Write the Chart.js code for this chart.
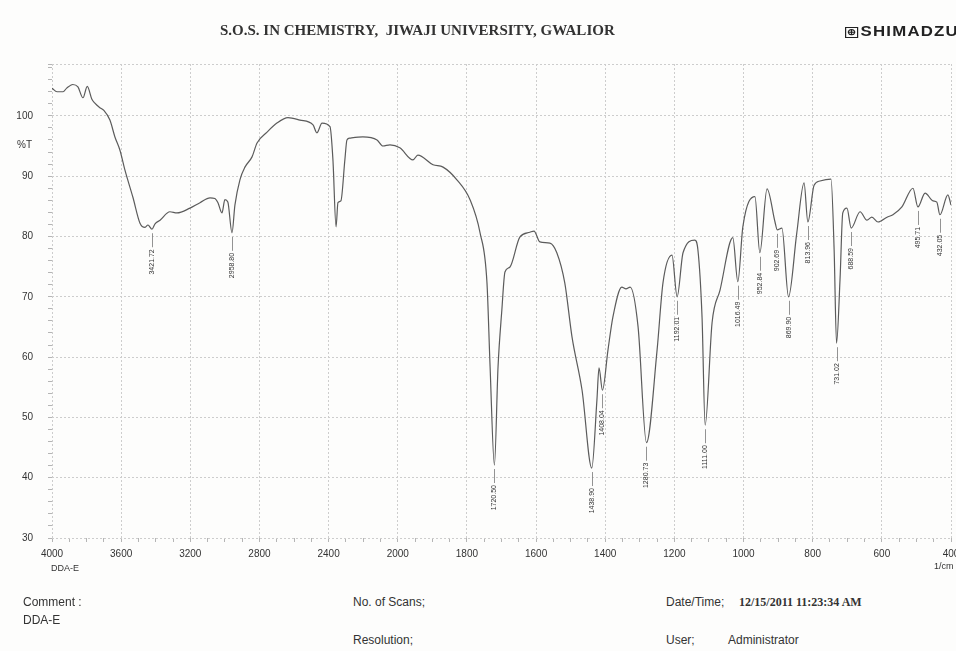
<!DOCTYPE html>
<html>
<head>
<meta charset="utf-8">
<title>FTIR DDA-E</title>
<script src="https://cdn.jsdelivr.net/npm/chart.js@4.4.1/dist/chart.umd.min.js"></script>
<style>
  body { margin: 0; width: 956px; height: 651px; overflow: hidden; position: relative; background: #fdfdfc; font-family: 'Liberation Sans', Arial, sans-serif; color: #333; }
  #chartBox { position: absolute; left: 0; top: 0; width: 956px; height: 580px; }
  .txt { position: absolute; white-space: nowrap; line-height: 14px; font-size: 12px; }
  .serif { font-family: 'Liberation Serif', 'Times New Roman', serif; font-weight: bold; }
  #title { left: 220px; top: 22px; font-size: 15px; line-height: 17px; }
  #logo { left: 845px; top: 24px; font-weight: bold; font-size: 14px; letter-spacing: 1px; transform: scaleX(1.2); transform-origin: left center; color: #222; }
  #logo span { display: inline-block; width: 9px; height: 9px; border: 1px solid #222; font-size: 9px; line-height: 9px; text-align: center; margin-right: 2px; letter-spacing: 0; vertical-align: 1px; }
</style>
</head>
<body>
<div id="chartBox"><canvas id="irChart"></canvas></div>

<div class="txt serif" id="title">S.O.S. IN CHEMISTRY,&nbsp; JIWAJI UNIVERSITY, GWALIOR</div>
<div class="txt" id="logo"><span>⊕</span>SHIMADZU</div>
<div class="txt" style="left:17px; top:138px; font-size:10px;">%T</div>
<div class="txt" style="left:51px; top:561px; font-size:9px;">DDA-E</div>
<div class="txt" style="left:934px; top:559px; font-size:9px;">1/cm</div>

<div class="txt" style="left:23px; top:595px;">Comment :</div>
<div class="txt" style="left:23px; top:613px;">DDA-E</div>
<div class="txt" style="left:353px; top:595px;">No. of Scans;</div>
<div class="txt" style="left:353px; top:633px;">Resolution;</div>
<div class="txt" style="left:666px; top:595px;">Date/Time;</div>
<div class="txt serif" style="left:739px; top:595px; font-size:12px;">12/15/2011 11:23:34 AM</div>
<div class="txt" style="left:666px; top:633px;">User;</div>
<div class="txt" style="left:728px; top:633px;">Administrator</div>

<script>
'use strict';

// spectrum (wavenumber in 1/cm , %T)
var wavenumbers = [
  4000, 3971, 3936, 3915, 3880, 3850, 3821, 3796, 3770, 3752, 3725, 3700, 3665, 3636,
  3607, 3578, 3532, 3491, 3462, 3445, 3421.72, 3404, 3375, 3318, 3277, 3202, 3144,
  3086, 3058, 3040, 3017, 3000, 2983, 2958.80, 2942, 2913, 2884, 2843, 2814, 2756,
  2699, 2635, 2566, 2490, 2468, 2438, 2392, 2375, 2357, 2346, 2329, 2306, 2294, 2277,
  2202, 2120, 2086, 2045, 1994, 1956, 1942, 1898, 1869, 1829, 1791, 1762, 1742, 1733,
  1720.50, 1710, 1699, 1690, 1676, 1647, 1618, 1606, 1589, 1560, 1540, 1517, 1496,
  1467, 1438.90, 1424, 1418, 1408.04, 1392, 1378, 1352, 1340, 1328, 1305, 1280.73,
  1250, 1233, 1207, 1192.01, 1175, 1141, 1132, 1120, 1111.00, 1091, 1068, 1031,
  1016.49, 1002, 967, 952.84, 932, 909, 902.69, 889, 869.90, 846, 825, 813.96, 796,
  779, 747, 738, 731.02, 721, 713, 701, 688.59, 663, 643, 629, 611, 585, 568, 542,
  510, 495.71, 475, 452, 441, 432.05, 409, 400
];
var transmittance = [
  104.6, 104.0, 104.0, 104.6, 105.2, 104.8, 103.0, 104.9, 102.8, 102.1, 101.4, 100.9, 99.3, 96.5,
  94.3, 91.0, 86.5, 82.2, 81.5, 81.9, 81.2, 82.1, 82.7, 84.1, 83.9, 84.7, 85.6,
  86.4, 86.3, 85.6, 83.9, 86.1, 85.7, 80.6, 85.2, 89.4, 91.5, 93.2, 95.5, 97.3,
  98.8, 99.7, 99.3, 98.5, 97.2, 98.8, 98.2, 92.7, 81.6, 85.6, 85.9, 92.7, 96.0, 96.3,
  96.5, 96.0, 95.0, 95.2, 94.7, 92.7, 93.5, 91.9, 91.5, 89.4, 86.1, 80.6, 72.3, 58.4,
  42.1, 58.4, 67.8, 74.1, 74.9, 79.9, 80.7, 80.9, 79.1, 78.9, 77.3, 72.3, 63.3,
  54.5, 41.6, 52.9, 58.2, 54.5, 61.2, 66.6, 71.6, 71.3, 71.6, 65.0, 45.8,
  61.2, 72.3, 76.9, 70.0, 77.3, 79.4, 77.8, 66.6, 48.7, 65.7, 71.1, 79.8,
  72.5, 81.6, 86.6, 77.3, 87.9, 82.4, 81.1, 81.4, 70.0, 80.6, 88.9, 82.4, 88.5,
  89.2, 89.5, 77.8, 62.3, 72.8, 83.9, 84.7, 81.4, 84.1, 82.7, 83.2, 82.4, 83.2, 83.6, 84.9,
  88.0, 84.9, 87.2, 85.9, 85.7, 83.6, 86.9, 85.2
];

// labelled peaks
var peakWavenumbers = [3421.72, 2958.80, 1720.50, 1438.90, 1408.04, 1280.73, 1192.01, 1111.00,
  1016.49, 952.84, 902.69, 869.90, 813.96, 731.02, 688.59, 495.71, 432.05];
var peakTransmittance = [81.2, 80.6, 42.1, 41.6, 54.5, 45.8, 70.0, 48.7,
  72.5, 77.3, 81.1, 70.0, 82.4, 62.3, 81.4, 84.9, 83.6];

var xTickLabels = [4000, 3600, 3200, 2800, 2400, 2000, 1800, 1600, 1400, 1200, 1000, 800, 600, 400];
var yTickLabels = [30, 40, 50, 60, 70, 80, 90, 100];
var yTop = 108.6;

// the Shimadzu axis is squeezed by 2 above 2000 1/cm
function toAxis(nu) {
  return nu >= 2000 ? (4000 - nu) / 2 : 1000 + (2000 - nu);
}
function fromAxis(u) {
  return u <= 1000 ? 4000 - 2 * u : 3000 - u;
}

var points = [];
for (var i = 0; i < wavenumbers.length; i++) {
  points.push({ x: toAxis(wavenumbers[i]), y: transmittance[i] });
}

var xMajor = xTickLabels.map(toAxis);
var xTicks = [];
for (var u = 0; u <= 2600; u += 50) xTicks.push(u);
var yTicks = [];
for (var t = 30; t <= 108; t += 2) yTicks.push(t);
yTicks.push(yTop);

function isMajorX(v) { return xMajor.indexOf(v) !== -1; }
function isMajorY(v) { return yTickLabels.indexOf(v) !== -1 || v === yTop; }

// peak numbers hanging under each minimum
var peakLabels = {
  id: 'peakLabels',
  afterDatasetsDraw: function (chart) {
    var ctx = chart.ctx;
    var xs = chart.scales.x;
    var ys = chart.scales.y;
    ctx.save();
    ctx.strokeStyle = '#777';
    ctx.lineWidth = 0.8;
    ctx.fillStyle = '#333';
    ctx.font = '7px "Liberation Sans", Arial, sans-serif';
    for (var i = 0; i < peakWavenumbers.length; i++) {
      var px = Math.round(xs.getPixelForValue(toAxis(peakWavenumbers[i]))) + 0.5;
      var py = ys.getPixelForValue(peakTransmittance[i]);
      ctx.beginPath();
      ctx.moveTo(px, py + 4);
      ctx.lineTo(px, py + 18);
      ctx.stroke();
      ctx.save();
      ctx.translate(px, py + 20);
      ctx.rotate(-Math.PI / 2);
      ctx.textAlign = 'right';
      ctx.textBaseline = 'middle';
      ctx.fillText(peakWavenumbers[i].toFixed(2), 0, 0);
      ctx.restore();
    }
    ctx.restore();
  }
};

var ctx = document.getElementById('irChart').getContext('2d');
var chart = new Chart(ctx, {
  type: 'line',
  data: {
    datasets: [{
      data: points,
      borderColor: '#5b5b5b',
      borderWidth: 1.2,
      pointRadius: 0,
      cubicInterpolationMode: 'monotone',
      fill: false
    }]
  },
  options: {
    responsive: true,
    maintainAspectRatio: false,
    animation: false,
    layout: { padding: { top: 64, right: 5, left: 0, bottom: 0 } },
    plugins: { legend: { display: false }, tooltip: { enabled: false } },
    scales: {
      x: {
        type: 'linear',
        min: 0,
        max: 2600,
        afterBuildTicks: function (scale) {
          scale.ticks = xTicks.map(function (v) { return { value: v }; });
        },
        afterFit: function (scale) {
          scale.height = 42;
          scale.paddingLeft = 0;
          scale.paddingRight = 0;
        },
        ticks: {
          autoSkip: false,
          maxRotation: 0,
          padding: 6,
          color: '#333',
          font: { family: 'Liberation Sans', size: 10 },
          callback: function (value) {
            return isMajorX(value) ? String(fromAxis(value)) : '';
          }
        },
        grid: {
          color: function (c) { return c.tick && isMajorX(c.tick.value) ? '#cdcdcd' : 'rgba(0,0,0,0)'; },
          lineWidth: 1,
          tickLength: 4,
          tickColor: '#b5b5b5'
        },
        border: { display: false, dash: [2, 2] }
      },
      y: {
        min: 30,
        max: yTop,
        afterBuildTicks: function (scale) {
          scale.ticks = yTicks.map(function (v) { return { value: v }; });
        },
        afterFit: function (scale) {
          scale.width = 52;
          scale.paddingTop = 0;
          scale.paddingBottom = 0;
        },
        ticks: {
          autoSkip: false,
          padding: 15,
          color: '#333',
          font: { family: 'Liberation Sans', size: 10 },
          callback: function (value) {
            return yTickLabels.indexOf(value) !== -1 ? String(value) : '';
          }
        },
        grid: {
          color: function (c) { return c.tick && isMajorY(c.tick.value) ? '#cdcdcd' : 'rgba(0,0,0,0)'; },
          lineWidth: 1,
          tickLength: 4,
          tickColor: '#b5b5b5'
        },
        border: { display: false, dash: [2, 2] }
      }
    }
  },
  plugins: [peakLabels]
});
</script>
</body>
</html>
